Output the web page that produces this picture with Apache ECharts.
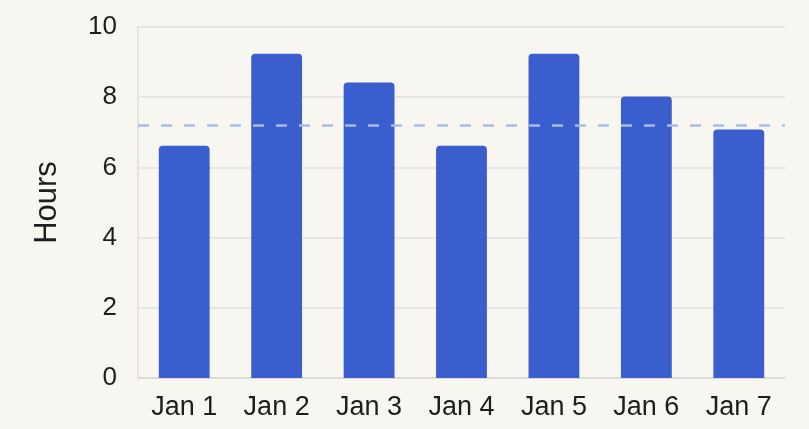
<!DOCTYPE html>
<html>
<head>
<meta charset="utf-8">
<script src="https://cdn.jsdelivr.net/npm/echarts@6/dist/echarts.min.js"></script>
<style>
html,body{margin:0;padding:0;background:#f8f6f1;}
#c{width:809px;height:429px;}
</style>
</head>
<body>
<div id="c"></div>
<script>
const categories = ['Jan 1','Jan 2','Jan 3','Jan 4','Jan 5','Jan 6','Jan 7'];
const hours = [6.62, 9.24, 8.42, 6.62, 9.24, 8.02, 7.08];
const targetHours = 7.2;
const yTicks = { min: 0, max: 10, interval: 2 };
const yAxisName = 'Hours';

const chart = echarts.init(document.getElementById('c'), null, {renderer:'canvas'});
const font = '"Liberation Sans", Arial, sans-serif';
chart.setOption({
  backgroundColor: '#f8f6f1',
  animation: false,
  grid: { left: 138, right: 24, top: 27, bottom: 51 },
  xAxis: {
    type: 'category',
    data: categories,
    axisLine: { show: true, lineStyle: { color: '#d9d7d2', width: 1.5 } },
    axisTick: { show: false },
    axisLabel: { color: '#1e1e1e', fontSize: 27, fontFamily: font, margin: 16 }
  },
  yAxis: {
    type: 'value',
    min: yTicks.min, max: yTicks.max, interval: yTicks.interval,
    name: yAxisName,
    nameLocation: 'middle',
    nameGap: 75,
    nameTextStyle: { color: '#1e1e1e', fontSize: 31, fontFamily: font },
    axisLine: { show: true, lineStyle: { color: '#e0ded9', width: 1.5 } },
    axisTick: { show: false },
    axisLabel: { color: '#1e1e1e', fontSize: 26, fontFamily: font, margin: 21 },
    splitLine: { lineStyle: { color: '#e3e1dc', width: 1.5 } }
  },
  series: [{
    type: 'bar',
    data: hours,
    barWidth: '55%',
    itemStyle: { color: '#3a5ecd', borderRadius: [4,4,0,0] },
    markLine: {
      silent: true,
      symbol: 'none',
      label: { show: false },
      lineStyle: { color: '#a9bde2', type: [11, 12], width: 2.5 },
      data: [{ yAxis: targetHours }]
    }
  }]
});
</script>
</body>
</html>
